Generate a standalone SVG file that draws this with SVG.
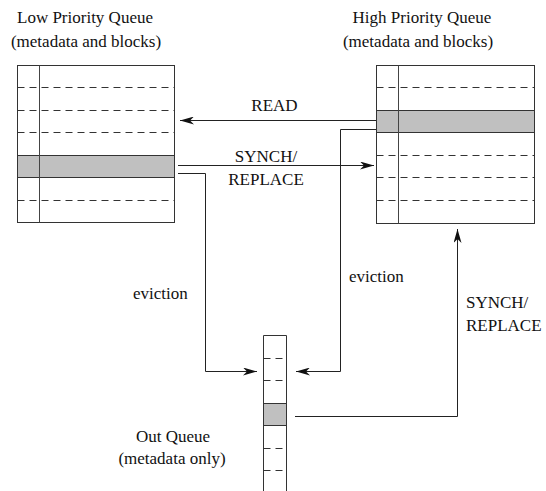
<svg xmlns="http://www.w3.org/2000/svg" width="546" height="491" viewBox="0 0 546 491">
<defs>
<style>
text{font-family:"Liberation Serif","Times New Roman",serif;font-size:17px;fill:#111}
.box{fill:#fff;stroke:#333;stroke-width:1}
.div{stroke:#444;stroke-width:1}
.dash{stroke:#333;stroke-width:1;stroke-dasharray:7,5}
.shade{fill:#c0c0c0;stroke:#333;stroke-width:1}
.conn{fill:none;stroke:#222;stroke-width:1}
.mid{text-anchor:middle}
</style>
<marker id="arr" viewBox="0 0 14 8" refX="14" refY="4" markerWidth="14" markerHeight="8" markerUnits="userSpaceOnUse" orient="auto">
<path d="M14,4 L0,0 L4,4 L0,8 Z" fill="#111"/>
</marker>
</defs>
<rect width="546" height="491" fill="#fff"/>

<g id="low-queue">
<text class="mid" x="85" y="23">Low Priority Queue</text>
<text class="mid" x="86" y="47">(metadata and blocks)</text>
<rect class="box" x="17.5" y="65.5" width="157" height="157"/>
<line class="dash" x1="17.5" y1="87.5" x2="174.5" y2="87.5"/>
<line class="dash" x1="17.5" y1="110.5" x2="174.5" y2="110.5"/>
<line class="dash" x1="17.5" y1="132.5" x2="174.5" y2="132.5"/>
<rect class="shade" x="17.5" y="155.5" width="157" height="22"/>
<line class="dash" x1="17.5" y1="200.5" x2="174.5" y2="200.5"/>
<line class="div" x1="39.5" y1="65.5" x2="39.5" y2="222.5"/>
</g>

<g id="high-queue">
<text class="mid" x="422" y="23">High Priority Queue</text>
<text class="mid" x="418" y="47">(metadata and blocks)</text>
<rect class="box" x="376.5" y="65.5" width="158" height="158"/>
<line class="dash" x1="376.5" y1="87.5" x2="534.5" y2="87.5"/>
<rect class="shade" x="376.5" y="110.5" width="158" height="22"/>
<line class="dash" x1="376.5" y1="155.5" x2="534.5" y2="155.5"/>
<line class="dash" x1="376.5" y1="177.5" x2="534.5" y2="177.5"/>
<line class="dash" x1="376.5" y1="200.5" x2="534.5" y2="200.5"/>
<line class="div" x1="398.5" y1="65.5" x2="398.5" y2="223.5"/>
</g>

<g id="out-queue">
<text class="mid" x="173" y="442">Out Queue</text>
<text class="mid" x="172" y="464">(metadata only)</text>
<path class="box" d="M263.5,495 V335.5 H286.5 V495"/>
<line class="dash" x1="263.5" y1="358.5" x2="286.5" y2="358.5"/>
<line class="dash" x1="263.5" y1="380.5" x2="286.5" y2="380.5"/>
<rect class="shade" x="263.5" y="403.5" width="23" height="22"/>
<line class="dash" x1="263.5" y1="448.5" x2="286.5" y2="448.5"/>
<line class="dash" x1="263.5" y1="470.5" x2="286.5" y2="470.5"/>
</g>

<g id="connectors">
<path class="conn" d="M376,120.5 H180" marker-end="url(#arr)"/>
<text class="mid" x="274.5" y="111">READ</text>
<path class="conn" d="M178,165.5 H374" marker-end="url(#arr)"/>
<text class="mid" x="266" y="162">SYNCH/</text>
<text class="mid" x="266" y="185">REPLACE</text>
<path class="conn" d="M178,173.5 H205.5 V371.5 H257" marker-end="url(#arr)"/>
<text x="133" y="299">eviction</text>
<path class="conn" d="M376,129.5 H340.5 V371.5 H296" marker-end="url(#arr)"/>
<text x="349" y="282">eviction</text>
<path class="conn" d="M295,416.5 H457.5 V229" marker-end="url(#arr)"/>
<text x="466" y="308">SYNCH/</text>
<text x="466" y="331">REPLACE</text>
</g>
</svg>
